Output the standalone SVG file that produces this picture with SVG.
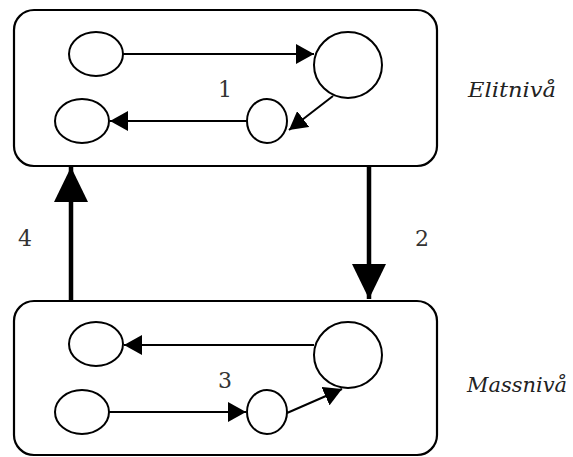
<svg xmlns="http://www.w3.org/2000/svg" width="573" height="457" viewBox="0 0 573 457">
<style>
.box{fill:#fff;stroke:#000;stroke-width:2.2}
.n{fill:#fff;stroke:#000;stroke-width:2}
.e{stroke:#000;stroke-width:2;fill:none}
.big{stroke:#000;stroke-width:4.5;fill:none}
.num{font-size:22px;fill:#333}
.lvl{font-style:italic;font-size:21px;fill:#222}
</style>
<defs>
<marker id="ah" markerUnits="userSpaceOnUse" markerWidth="18" markerHeight="20" refX="18" refY="10" orient="auto"><path d="M0,0 L18,10 L0,20 z" fill="#000"/></marker>
<marker id="bh" markerUnits="userSpaceOnUse" markerWidth="35" markerHeight="34" refX="35" refY="17" orient="auto"><path d="M0,0 L35,17 L0,34 z" fill="#000"/></marker>
</defs>
<g id="top-box"><rect class="box" x="14" y="10" width="423" height="156" rx="20"/></g>
<g id="bottom-box"><rect class="box" x="14" y="301" width="423" height="154" rx="20"/></g>
<g id="nA"><ellipse class="n" cx="96" cy="54" rx="27" ry="22"/></g>
<g id="nB"><ellipse class="n" cx="348" cy="65" rx="34" ry="33"/></g>
<g id="nC"><ellipse class="n" cx="82" cy="121" rx="27" ry="22"/></g>
<g id="nD"><ellipse class="n" cx="267" cy="121" rx="20" ry="22"/></g>
<g id="nE"><ellipse class="n" cx="96" cy="344" rx="27" ry="22"/></g>
<g id="nF"><ellipse class="n" cx="348" cy="355" rx="34" ry="33"/></g>
<g id="nG"><ellipse class="n" cx="82" cy="412" rx="27" ry="22"/></g>
<g id="nH"><ellipse class="n" cx="267" cy="412" rx="20" ry="22"/></g>
<g id="connectors">
<line class="e" x1="123" y1="54" x2="314" y2="54" marker-end="url(#ah)"/>
<line class="e" x1="333" y1="96" x2="289" y2="130" marker-end="url(#ah)"/>
<line class="e" x1="247" y1="121" x2="110" y2="121" marker-end="url(#ah)"/>
<line class="e" x1="314" y1="345" x2="124" y2="345" marker-end="url(#ah)"/>
<line class="e" x1="109" y1="412" x2="246" y2="412" marker-end="url(#ah)"/>
<line class="e" x1="287" y1="413" x2="342" y2="389" marker-end="url(#ah)"/>
<line class="big" x1="369" y1="166" x2="369" y2="299" marker-end="url(#bh)"/>
<line class="big" x1="71" y1="301" x2="71" y2="167" marker-end="url(#bh)"/>
</g>
<g id="labels" font-family="DejaVu Serif, serif">
<text class="num" x="225" y="97" text-anchor="middle">1</text>
<text class="num" x="422" y="246" text-anchor="middle">2</text>
<text class="num" x="225" y="388" text-anchor="middle">3</text>
<text class="num" x="25" y="246" text-anchor="middle">4</text>
<text class="lvl" x="468" y="97" textLength="88" lengthAdjust="spacingAndGlyphs">Elitnivå</text>
<text class="lvl" x="467" y="392" textLength="100" lengthAdjust="spacingAndGlyphs">Massnivå</text>
</g>
</svg>
